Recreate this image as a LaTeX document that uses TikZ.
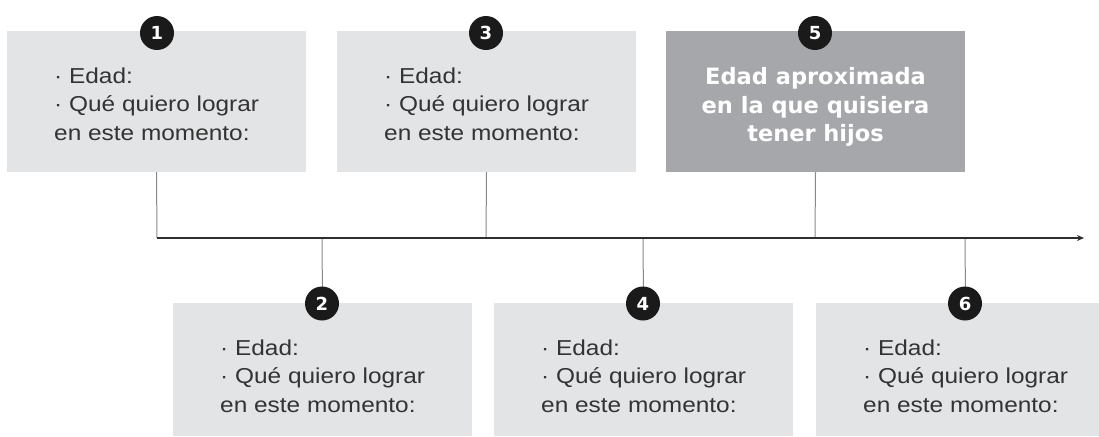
\documentclass[tikz,border=0pt]{standalone}
\usepackage{fontspec}
\setmainfont{Liberation Sans}[FakeStretch=1.13]
\newfontfamily\heavy{DejaVu Sans}
\usetikzlibrary{arrows.meta}
\definecolor{boxlight}{HTML}{E3E4E6}
\definecolor{boxdark}{HTML}{A6A7AA}
\definecolor{txt}{HTML}{333333}
\definecolor{conncol}{HTML}{888888}
\definecolor{axiscol}{HTML}{2E2E2E}
\definecolor{circcol}{HTML}{1A1A1A}
\tikzset{
  lightbox/.style={rectangle, fill=boxlight, draw=none, inner sep=0pt, minimum width=299pt, minimum height=141pt},
  darkbox/.style={lightbox, fill=boxdark},
  lowbox/.style={lightbox, minimum height=133pt},
  bodytext/.style={anchor=north west, inner sep=0pt, align=left, text=txt, font=\fontsize{21.6}{28.5}\selectfont},
  headtext/.style={anchor=north, inner sep=0pt, align=center, text=white, font=\heavy\bfseries\fontsize{22.5}{28.5}\selectfont},
  numcirc/.style={circle, fill=circcol, text=white, minimum size=34pt, inner sep=0pt, font=\heavy\bfseries\fontsize{18}{18}\selectfont},
  conn/.style={draw=conncol, line width=1pt},
  axisline/.style={draw=axiscol, line width=1.6pt, -{Stealth[length=7pt,width=6pt]}}
}
\begin{document}
\begin{tikzpicture}[x=1pt,y=-1pt]
\useasboundingbox (0,0) rectangle (1099,436);
% axis coordinates
\coordinate (ax0) at (157,238);
\coordinate (ax1) at (1084,238);
\coordinate (p2) at (322,238);
\coordinate (p3) at (486,238);
\coordinate (p4) at (643,238);
\coordinate (p5) at (815,238);
\coordinate (p6) at (965,238);
% top boxes
\node[lightbox] (b1) at (156.5,101.5) {};
\node[lightbox] (b3) at (486.5,101.5) {};
\node[darkbox]  (b5) at (815.5,101.5) {};
% bottom boxes
\node[lowbox] (b2) at (322.5,369.5) {};
\node[lowbox] (b4) at (643.5,369.5) {};
\node[lowbox] (b6) at (965.5,369.5) {};
% connectors
\draw[conn] (b1.south) -- (ax0);
\draw[conn] (b3.south) -- (p3);
\draw[conn] (b5.south) -- (p5);
\draw[conn] (p2) -- (b2.north);
\draw[conn] (p4) -- (b4.north);
\draw[conn] (p6) -- (b6.north);
\draw[axisline] (ax0) -- (ax1);
% texts
\node[bodytext] (t1) at (54,67.5) {· Edad:\\· Qué quiero lograr\\en este momento:};
\node[bodytext] (t3) at (384,67.5) {· Edad:\\· Qué quiero lograr\\en este momento:};
\node[headtext] (t5) at (815.5,67.5) {Edad aproximada\\en la que quisiera\\tener hijos};
\node[bodytext] (t2) at (220,339.5) {· Edad:\\· Qué quiero lograr\\en este momento:};
\node[bodytext] (t4) at (541,339.5) {· Edad:\\· Qué quiero lograr\\en este momento:};
\node[bodytext] (t6) at (863,339.5) {· Edad:\\· Qué quiero lograr\\en este momento:};
% number circles
\node[numcirc] (c1) at (157,33) {1};
\node[numcirc] (c3) at (486,33) {3};
\node[numcirc] (c5) at (815,33) {5};
\node[numcirc] (c2) at (322,303.5) {2};
\node[numcirc] (c4) at (643,303.5) {4};
\node[numcirc] (c6) at (965,303.5) {6};
\end{tikzpicture}
\end{document}
